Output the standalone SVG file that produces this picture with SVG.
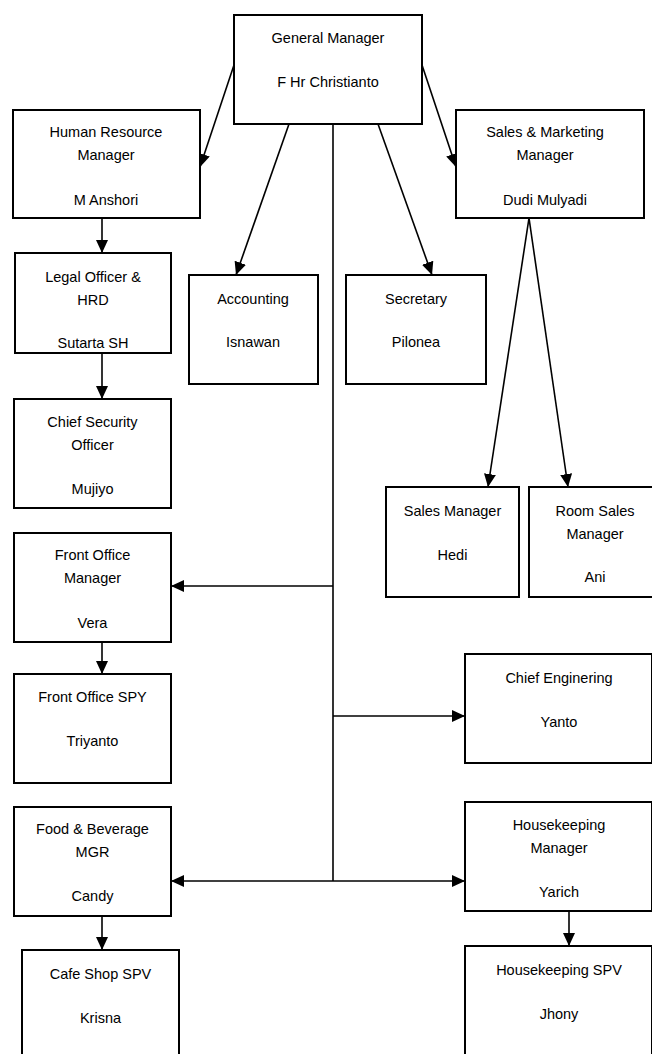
<svg xmlns="http://www.w3.org/2000/svg" width="652" height="1054" viewBox="0 0 652 1054">
<style>
.box{fill:#fff;stroke:#000;stroke-width:2}
text{font-family:"Liberation Sans",Arial,sans-serif;font-size:14.5px;fill:#000;text-anchor:middle}
.c{stroke:#000;stroke-width:1.6;fill:none}
.a{marker-end:url(#ah)}
.b{marker-start:url(#ahs);marker-end:url(#ah)}
</style>
<defs>
<marker id="ah" markerUnits="userSpaceOnUse" markerWidth="14" markerHeight="12" refX="13" refY="6" orient="auto">
<path d="M0,0 L13,6 L0,12 z" fill="#000"/>
</marker>
<marker id="ahs" markerUnits="userSpaceOnUse" markerWidth="14" markerHeight="12" refX="0" refY="6" orient="auto">
<path d="M13,0 L0,6 L13,12 z" fill="#000"/>
</marker>
</defs>
<rect width="652" height="1054" fill="#fff"/>
<g id="connectors">
<line class="c a" x1="234" y1="65" x2="200" y2="167"/>
<line class="c a" x1="289" y1="124" x2="236" y2="275"/>
<line class="c a" x1="378" y1="124" x2="432" y2="275"/>
<line class="c a" x1="422" y1="65" x2="456" y2="167"/>
<line class="c a" x1="529" y1="218" x2="488" y2="487"/>
<line class="c a" x1="529" y1="218" x2="568" y2="487"/>
<line class="c" x1="333" y1="124" x2="333" y2="881"/>
<line class="c a" x1="333" y1="586" x2="171" y2="586"/>
<line class="c a" x1="333" y1="716" x2="465" y2="716"/>
<line class="c b" x1="171" y1="881" x2="465" y2="881"/>
<line class="c a" x1="102" y1="218" x2="102" y2="253"/>
<line class="c a" x1="102" y1="353" x2="102" y2="399"/>
<line class="c a" x1="102" y1="642" x2="102" y2="674"/>
<line class="c a" x1="102" y1="916" x2="102" y2="950"/>
<line class="c a" x1="569" y1="911" x2="569" y2="946"/>
</g>
<g id="gm"><rect class="box" x="234" y="15" width="188" height="109"/><text x="328" y="43">General Manager</text><text x="328" y="87">F Hr Christianto</text></g>
<g id="hrm"><rect class="box" x="13" y="110" width="187" height="108"/><text x="106" y="137">Human Resource</text><text x="106" y="160">Manager</text><text x="106" y="205">M Anshori</text></g>
<g id="smm"><rect class="box" x="456" y="110" width="188" height="108"/><text x="545" y="137">Sales &amp; Marketing</text><text x="545" y="160">Manager</text><text x="545" y="205">Dudi Mulyadi</text></g>
<g id="legal"><rect class="box" x="15" y="253" width="156" height="100"/><text x="93" y="282">Legal Officer &amp;</text><text x="93" y="305">HRD</text><text x="93" y="348">Sutarta SH</text></g>
<g id="accounting"><rect class="box" x="189" y="275" width="129" height="109"/><text x="253" y="304">Accounting</text><text x="253" y="347">Isnawan</text></g>
<g id="secretary"><rect class="box" x="346" y="275" width="140" height="109"/><text x="416" y="304">Secretary</text><text x="416" y="347">Pilonea</text></g>
<g id="cso"><rect class="box" x="14" y="399" width="157" height="109"/><text x="92.5" y="427">Chief Security</text><text x="92.5" y="450">Officer</text><text x="92.5" y="494">Mujiyo</text></g>
<g id="salesmgr"><rect class="box" x="386" y="487" width="133" height="110"/><text x="452.5" y="516">Sales Manager</text><text x="452.5" y="560">Hedi</text></g>
<g id="roomsales"><rect class="box" x="529" y="487" width="132" height="110"/><text x="595" y="516">Room Sales</text><text x="595" y="539">Manager</text><text x="595" y="582">Ani</text></g>
<g id="fom"><rect class="box" x="14" y="533" width="157" height="109"/><text x="92.5" y="560">Front Office</text><text x="92.5" y="583">Manager</text><text x="92.5" y="628">Vera</text></g>
<g id="chiefeng"><rect class="box" x="465" y="654" width="187" height="109"/><text x="559" y="683">Chief Enginering</text><text x="559" y="727">Yanto</text></g>
<g id="fospy"><rect class="box" x="14" y="674" width="157" height="109"/><text x="92.5" y="702">Front Office SPY</text><text x="92.5" y="746">Triyanto</text></g>
<g id="hkmgr"><rect class="box" x="465" y="802" width="187" height="109"/><text x="559" y="830">Housekeeping</text><text x="559" y="853">Manager</text><text x="559" y="897">Yarich</text></g>
<g id="fb"><rect class="box" x="14" y="807" width="157" height="109"/><text x="92.5" y="834">Food &amp; Beverage</text><text x="92.5" y="857">MGR</text><text x="92.5" y="901">Candy</text></g>
<g id="hkspv"><rect class="box" x="465" y="946" width="187" height="120"/><text x="559" y="975">Housekeeping SPV</text><text x="559" y="1019">Jhony</text></g>
<g id="cafe"><rect class="box" x="22" y="950" width="157" height="120"/><text x="100.5" y="979">Cafe Shop SPV</text><text x="100.5" y="1023">Krisna</text></g>
</svg>
